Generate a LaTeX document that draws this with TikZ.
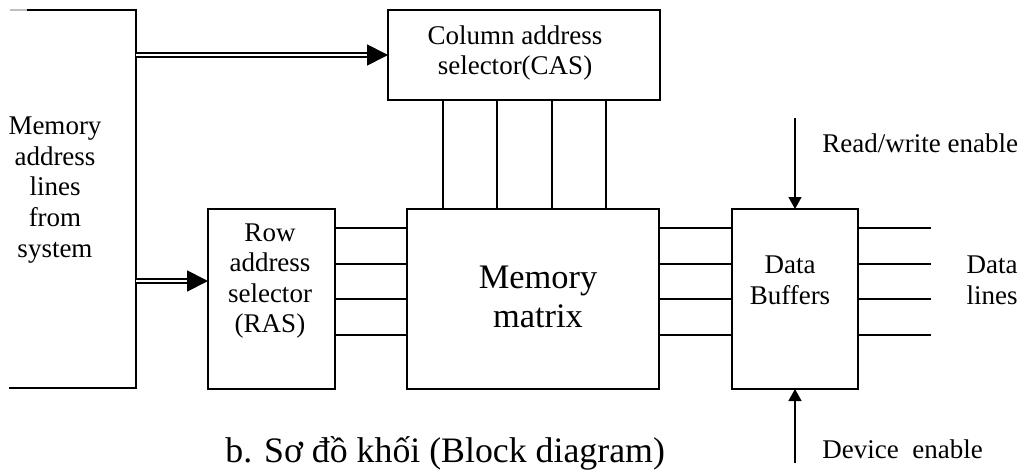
\documentclass[tikz,border=0pt]{standalone}
\usepackage{fontspec}
\setmainfont{Liberation Serif}
\usetikzlibrary{arrows.meta}
\begin{document}
\begin{tikzpicture}[x=0.5pt,y=-0.5pt,
  box/.style={draw,line width=1pt,inner sep=0pt,outer sep=0pt},
  wire/.style={line width=0.9pt},
  bus/.style={line width=0.9pt,double,double distance=1.4pt,
    -{Triangle[length=10.5pt,width=10.5pt]}},
  ctl/.style={line width=0.7pt,-{Triangle[length=6pt,width=6.5pt]}},
  lbl/.style={inner sep=0pt,align=center,font=\fontsize{13.5}{15.3}\selectfont},
  big/.style={inner sep=0pt,align=center,font=\fontsize{17.2}{19.5}\selectfont},
  captext/.style={inner sep=0pt,font=\fontsize{17.9}{20}\selectfont}]
\useasboundingbox (0,0) rectangle (1023,471);

% blocks
\node[box,minimum width=136pt,minimum height=45pt] (cas) at (524,55) {};
\node[box,minimum width=63.5pt,minimum height=90pt] (ras) at (271.5,299) {};
\node[box,minimum width=126pt,minimum height=90pt] (mm) at (533,299) {};
\node[box,minimum width=63pt,minimum height=90pt] (db) at (795,299) {};

% block texts
\node[lbl] (castext) at (515,53) {Column address\\selector(CAS)};
\node[lbl] (rastext) at (270,281) {Row\\address\\selector\\(RAS)};
\node[big] (mmtext) at (538,297) {Memory\\matrix};
\node[lbl] (dbtext) at (790,280) {Data\\Buffers};

% address bus bracket
\coordinate (brtl) at (10,10);
\coordinate (brtop) at (136,10);
\coordinate (brbot) at (136,388);
\coordinate (brbl) at (10,388);
\draw[line width=0.9pt,black!25] (brtl) -- (28,10);
\draw[wire,line cap=rect] (28,10) -- (brtop) -- (brbot) -- (brbl);
\node[lbl] (addrtext) at (55,190) {Memory\\address\\lines\\from\\system};

% address buses
\coordinate (bus1) at (136,55);
\coordinate (bus2) at (136,281);
\draw[bus] (bus1) -- (cas.west);
\draw[bus] (bus2) -- (ras.west |- bus2);

% column select lines
\foreach \x in {443,497,552,606}
  \draw[wire] (cas.south -| \x,0) -- (mm.north -| \x,0);

% row select lines
\foreach \y in {228,264,299,335}
  \draw[wire] (ras.east |- 0,\y) -- (mm.west |- 0,\y);

% matrix to buffers and data lines
\foreach \y [count=\i] in {228,264,299,335} {
  \draw[wire] (mm.east |- 0,\y) -- (db.west |- 0,\y);
  \coordinate (dl\i) at (931,\y);
  \draw[wire] (db.east |- dl\i) -- (dl\i);
}
\node[lbl] (dltext) at (992,280) {Data\\lines};

% control inputs
\coordinate (rw) at (795,118);
\coordinate (de) at (795,463);
\draw[ctl] (rw) -- (db.north);
\draw[ctl] (de) -- (db.south);
\node[lbl,anchor=base west] (rwtext) at (822,152) {Read/write enable};
\node[lbl,anchor=base west] (detext) at (822,458) {Device\ \ enable};

% caption
\node[captext,anchor=base west] (caption) at (225,462) {b. Sơ đồ khối (Block diagram)};
\end{tikzpicture}
\end{document}
